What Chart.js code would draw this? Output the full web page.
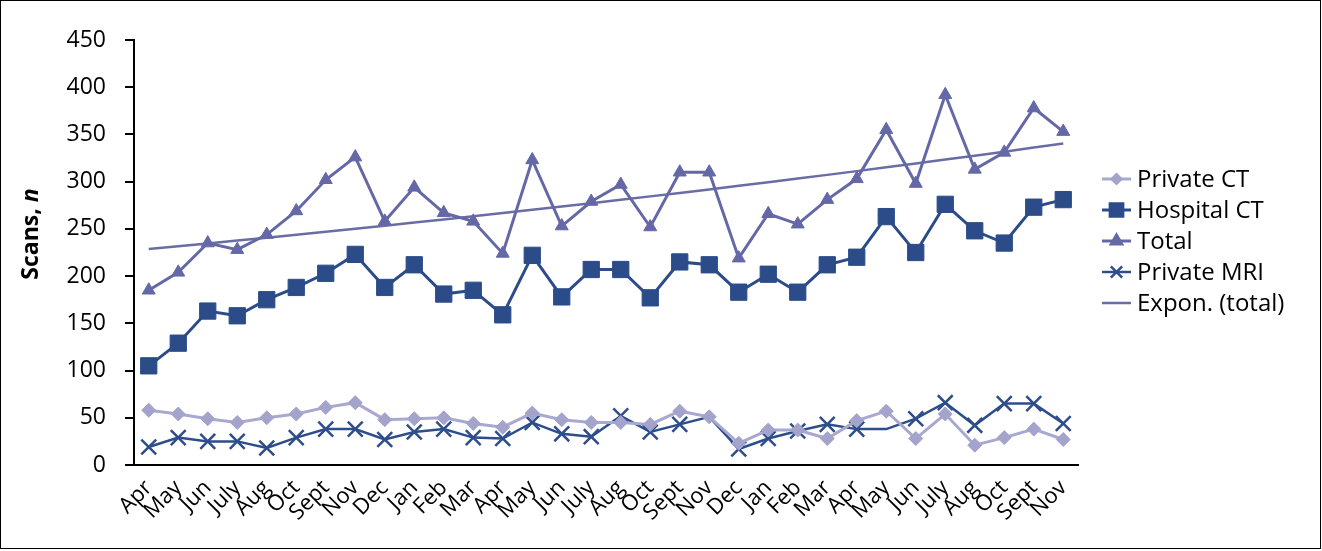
<!DOCTYPE html>
<html>
<head>
<meta charset="utf-8">
<script src="https://cdn.jsdelivr.net/npm/chart.js@4"></script>
<style>
  html, body { margin: 0; padding: 0; background: #fff; }
  #wrap { width: 1319px; height: 547px; border: 1px solid #000; position: relative; }
</style>
</head>
<body>
<div id="wrap"><canvas id="myChart" width="1319" height="547"></canvas></div>
<script>
// months of the survey, Apr through Nov of the following year
const months = ['Apr', 'May', 'Jun', 'July', 'Aug', 'Oct', 'Sept', 'Nov', 'Dec', 'Jan', 'Feb', 'Mar',
                'Apr', 'May', 'Jun', 'July', 'Aug', 'Oct', 'Sept', 'Nov', 'Dec', 'Jan', 'Feb', 'Mar',
                'Apr', 'May', 'Jun', 'July', 'Aug', 'Oct', 'Sept', 'Nov'];

const privateCT  = [58, 54, 49, 45, 50, 54, 61, 66, 48, 49, 50, 44, 40, 55, 48, 45,
                    45, 43, 57, 51, 23, 37, 37, 28, 47, 57, 28, 54, 21, 29, 38, 27];
const hospitalCT = [105, 129, 163, 158, 175, 188, 203, 223, 188, 212, 181, 185, 159, 222, 178, 207,
                    207, 177, 215, 212, 183, 202, 183, 212, 220, 263, 225, 276, 248, 235, 273, 281];
const totalScans = [185, 204, 235, 228, 244, 269, 302, 326, 258, 294, 267, 258, 224, 323, 253, 279,
                    297, 252, 310, 310, 219, 266, 255, 281, 303, 355, 298, 392, 313, 331, 378, 353];
const privateMRI = [19, 29, 25, 25, 18, 29, 38, 38, 27, 35, 38, 29, 28, 45, 33, 30,
                    52, 35, 43, 51, 17, 28, 36, 43, 38, 38, 49, 66, 42, 65, 65, 44];

const yTicks = [0, 50, 100, 150, 200, 250, 300, 350, 400, 450];

// exponential trendline fitted to the total, like the spreadsheet's "Expon." trend
function expTrend(vals) {
    const n = vals.length;
    let sx = 0, sy = 0, sxx = 0, sxy = 0;
    vals.forEach((v, i) => {
        const x = i + 1, y = Math.log(v);
        sx += x; sy += y; sxx += x * x; sxy += x * y;
    });
    const b = (n * sxy - sx * sy) / (n * sxx - sx * sx);
    const a = (sy - b * sx) / n;
    return vals.map((v, i) => Math.exp(a + b * (i + 1)));
}

const FONT = "'Open Sans', 'DejaVu Sans', sans-serif";
const noMarker = [19, 25]; // MRI points drawn without a marker in the original

// own legend, so each entry shows the line with its marker
const sideLegend = {
    id: 'sideLegend',
    afterDraw(chart) {
        const ctx = chart.ctx;
        const x0 = 1101, x1 = 1130, top = 178, step = 31;
        ctx.save();
        chart.data.datasets.forEach((ds, i) => {
            const y = top + i * step;
            ctx.strokeStyle = ds.borderColor;
            ctx.lineWidth = ds.borderWidth;
            ctx.beginPath();
            ctx.moveTo(x0, y);
            ctx.lineTo(x1, y);
            ctx.stroke();
            if (ds.legendMarker) {
                ctx.fillStyle = ds.pointBackgroundColor;
                ctx.strokeStyle = ds.pointBorderColor;
                Chart.helpers.drawPoint(ctx, {
                    pointStyle: ds.pointStyle,
                    radius: ds.legendMarker,
                    rotation: 0,
                    borderWidth: ds.pointBorderWidth
                }, (x0 + x1) / 2, y);
            }
            ctx.fillStyle = '#000';
            ctx.font = '24px ' + FONT;
            ctx.textBaseline = 'middle';
            ctx.textAlign = 'left';
            ctx.fillText(ds.label, 1136, y + 1);
        });
        ctx.restore();
    }
};

// y-axis title with the italic n
const yTitle = {
    id: 'yTitle',
    afterDraw(chart) {
        const ctx = chart.ctx;
        ctx.save();
        ctx.translate(30, 233);
        ctx.rotate(-Math.PI / 2);
        ctx.fillStyle = '#000';
        ctx.textBaseline = 'middle';
        const a = 'Scans, ', b = 'n';
        ctx.font = 'bold 23px ' + FONT;
        const wa = ctx.measureText(a).width;
        ctx.font = 'italic bold 23px ' + FONT;
        const wb = ctx.measureText(b).width;
        let x = -(wa + wb) / 2;
        ctx.font = 'bold 23px ' + FONT;
        ctx.fillText(a, x, 0);
        ctx.font = 'italic bold 23px ' + FONT;
        ctx.fillText(b, x + wa, 0);
        ctx.restore();
    }
};

const ctx = document.getElementById('myChart').getContext('2d');
const chart = new Chart(ctx, {
    type: 'line',
    data: {
        labels: months,
        datasets: [{
            label: 'Private CT',
            data: privateCT,
            borderColor: '#a8a8d0',
            borderWidth: 3,
            pointStyle: 'rectRot',
            pointRadius: 7,
            pointBackgroundColor: '#a3a3cc',
            pointBorderColor: '#a3a3cc',
            pointBorderWidth: 1,
            legendMarker: 4.5
        }, {
            label: 'Hospital CT',
            data: hospitalCT,
            borderColor: '#2b4c89',
            borderWidth: 3,
            pointStyle: 'rect',
            pointRadius: 11.5,
            pointBackgroundColor: '#2b4c89',
            pointBorderColor: '#2b4c89',
            pointBorderWidth: 1,
            legendMarker: 9
        }, {
            label: 'Total',
            data: totalScans,
            borderColor: '#6568a6',
            borderWidth: 3,
            pointStyle: 'triangle',
            pointRadius: 7.5,
            pointBackgroundColor: '#6568a6',
            pointBorderColor: '#6568a6',
            pointBorderWidth: 1,
            legendMarker: 6
        }, {
            label: 'Private MRI',
            data: privateMRI,
            borderColor: '#2d4d8b',
            borderWidth: 2.5,
            pointStyle: 'crossRot',
            pointRadius: c => noMarker.includes(c.dataIndex) ? 0 : 10.5,
            pointBackgroundColor: '#2d4d8b',
            pointBorderColor: '#2d4d8b',
            pointBorderWidth: 2.5,
            legendMarker: 8
        }, {
            label: 'Expon. (total)',
            data: expTrend(totalScans),
            borderColor: '#6a6ca6',
            borderWidth: 2.5,
            pointRadius: 0,
            legendMarker: 0
        }]
    },
    options: {
        responsive: false,
        animation: false,
        events: [],
        elements: { line: { tension: 0 } },
        layout: { padding: { top: 39, right: 242, left: 0, bottom: 0 } },
        plugins: {
            legend: { display: false },
            tooltip: { enabled: false }
        },
        scales: {
            x: {
                offset: true,
                grid: { display: false },
                border: { display: true, color: '#000', width: 2 },
                ticks: {
                    autoSkip: false,
                    minRotation: 45,
                    maxRotation: 45,
                    padding: 2,
                    color: '#000',
                    font: { family: FONT, size: 22 }
                },
                afterFit(scale) { scale.height = 83; }
            },
            y: {
                min: 0,
                max: 450,
                afterBuildTicks(scale) { scale.ticks = yTicks.map(v => ({ value: v })); },
                grid: { drawOnChartArea: false, drawTicks: true, tickLength: 9, color: '#000', lineWidth: 2 },
                border: { display: true, color: '#000', width: 2 },
                ticks: {
                    padding: 19,
                    color: '#000',
                    font: { family: FONT, size: 23 }
                },
                afterFit(scale) { scale.width = 133; }
            }
        }
    },
    plugins: [sideLegend, yTitle]
});
</script>
</body>
</html>
